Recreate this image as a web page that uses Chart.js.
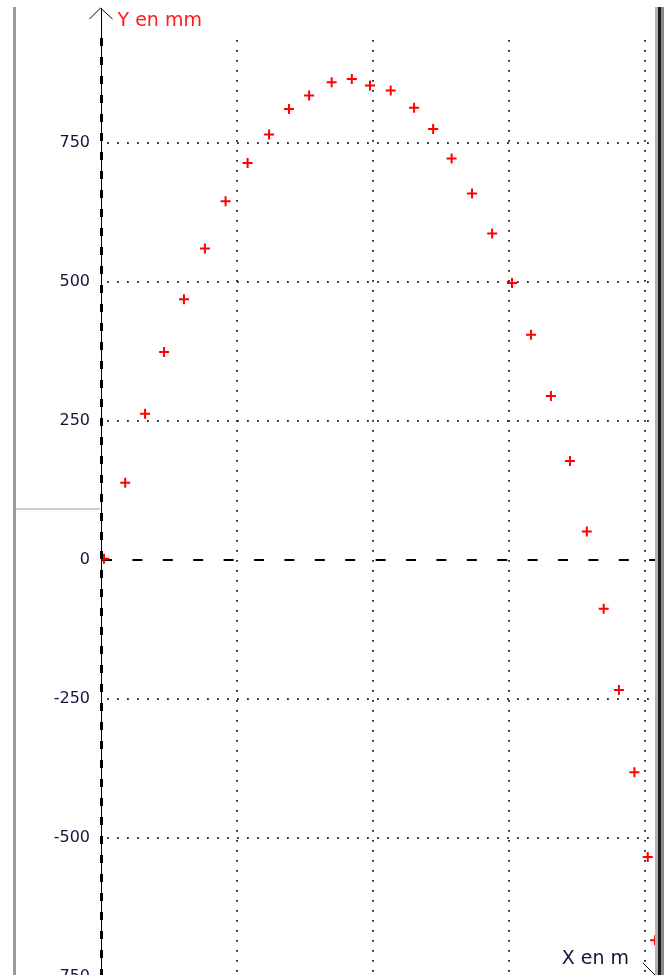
<!DOCTYPE html>
<html>
<head>
<meta charset="utf-8">
<script src="https://cdn.jsdelivr.net/npm/chart.js@4"></script>
<style>
  html, body { margin: 0; padding: 0; background: #fff; overflow: hidden; }
  #wrap { width: 668px; height: 1000px; }
</style>
</head>
<body>
<div id="wrap"><canvas id="traj" width="668" height="1000"></canvas></div>
<script>
// ── Data: positions (x in m, y in mm) ──
const xData = [0.011, 0.089, 0.162, 0.232, 0.305, 0.382, 0.458, 0.539, 0.618, 0.691,
               0.765, 0.848, 0.922, 0.989, 1.065, 1.151, 1.221, 1.289, 1.364, 1.438,
               1.511, 1.581, 1.654, 1.724, 1.786, 1.848, 1.904, 1.961, 2.010, 2.037];
const yData = [2, 139, 263, 374, 469, 560, 645, 714, 765, 811,
               835, 859, 865, 853, 844, 813, 775, 722, 659, 587,
               498, 405, 295, 178, 51, -88, -234, -382, -534, -684];
const yTicks = [-750, -500, -250, 0, 250, 500, 750];
const xGrid  = [0.5, 1, 1.5, 2];

const dotGrey = '#333';
const labelCol = '#15153a';

// grid + axes + frame drawn through the chart scales
const decor = {
  id: 'decor',
  beforeDatasetsDraw(chart) {
    const { ctx, chartArea: a, scales: { x, y } } = chart;
    ctx.save();
    // dotted grid
    ctx.strokeStyle = dotGrey;
    ctx.lineWidth = 2;
    ctx.setLineDash([1.8, 8.2]);
    xGrid.forEach(v => {
      const px = Math.round(x.getPixelForValue(v));
      ctx.beginPath(); ctx.moveTo(px, a.top); ctx.lineTo(px, a.bottom + 30); ctx.stroke();
    });
    yTicks.filter(v => v !== 0).forEach(v => {
      const py = Math.round(y.getPixelForValue(v));
      ctx.beginPath(); ctx.moveTo(a.left + 6, py); ctx.lineTo(a.right, py); ctx.stroke();
    });
    // zero line, dashed
    const y0 = Math.round(y.getPixelForValue(0));
    ctx.strokeStyle = '#000';
    ctx.lineWidth = 2;
    ctx.setLineDash([10, 20.4]);
    ctx.beginPath(); ctx.moveTo(a.left + 1, y0); ctx.lineTo(a.right, y0); ctx.stroke();
    ctx.restore();
  },
  afterDatasetsDraw(chart) {
    const { ctx, chartArea: a, scales: { x } } = chart;
    const x0 = Math.round(x.getPixelForValue(0)) + 0.5;
    ctx.save();
    // y axis: thin line + thick dashes + arrow
    ctx.strokeStyle = '#000';
    ctx.lineWidth = 1;
    ctx.beginPath(); ctx.moveTo(x0, 8); ctx.lineTo(x0, 1000); ctx.stroke();
    ctx.beginPath(); ctx.moveTo(x0 - 12, 19); ctx.lineTo(x0 - 1, 8); ctx.lineTo(x0 + 11, 19); ctx.stroke();
    ctx.lineWidth = 3;
    ctx.setLineDash([8, 11]);
    ctx.beginPath(); ctx.moveTo(x0, 38); ctx.lineTo(x0, 1000); ctx.stroke();
    ctx.setLineDash([]);
    // x axis arrow arm (bottom right)
    ctx.lineWidth = 1;
    ctx.beginPath(); ctx.moveTo(a.right - 14, a.bottom - 14); ctx.lineTo(a.right, a.bottom); ctx.stroke();
    // axis titles
    ctx.font = '19px "DejaVu Sans"';
    ctx.textBaseline = 'alphabetic';
    ctx.fillStyle = '#ff1a1a';
    ctx.textAlign = 'left';
    ctx.fillText('Y en mm', x0 + 16, 26);
    ctx.fillStyle = labelCol;
    ctx.textAlign = 'right';
    ctx.fillText('X en m', a.right - 28, 964);
    ctx.restore();
  },
  afterDraw(chart) {
    const ctx = chart.ctx;
    ctx.save();
    // window frame pieces
    ctx.fillStyle = '#9a9a9a'; ctx.fillRect(13, 7, 3, 993);
    ctx.fillStyle = '#cdcdcd'; ctx.fillRect(16, 508, 84, 2);
    ctx.fillStyle = '#b4b4b4'; ctx.fillRect(655, 7, 3, 993);
    ctx.fillStyle = '#1c1c1c'; ctx.fillRect(658, 7, 3, 993);
    ctx.fillStyle = '#8a8a8a'; ctx.fillRect(661, 7, 3, 993);
    ctx.restore();
  }
};

new Chart(document.getElementById('traj'), {
  type: 'scatter',
  data: {
    datasets: [{
      label: 'Y en mm',
      data: xData.map((v, i) => ({ x: v, y: yData[i] })),
      pointStyle: 'cross',
      pointRadius: 5,
      pointBorderWidth: 2,
      borderColor: '#ff0000',
      backgroundColor: '#ff0000',
      clip: 0
    }]
  },
  options: {
    responsive: false,
    animation: false,
    layout: { padding: { top: 40, bottom: 23, left: 0, right: 11 } },
    plugins: { legend: { display: false }, tooltip: { enabled: false } },
    scales: {
      x: { type: 'linear', min: 0, max: 2.044, display: false },
      y: {
        min: -750, max: 935,
        grid: { display: false, drawTicks: false },
        border: { display: false },
        afterBuildTicks: s => { s.ticks = yTicks.map(v => ({ value: v })); },
        afterFit: s => { s.width = 101; },
        ticks: {
          padding: 11,
          color: labelCol,
          font: { family: 'DejaVu Sans', size: 16 }
        }
      }
    }
  },
  plugins: [decor]
});
</script>
</body>
</html>
